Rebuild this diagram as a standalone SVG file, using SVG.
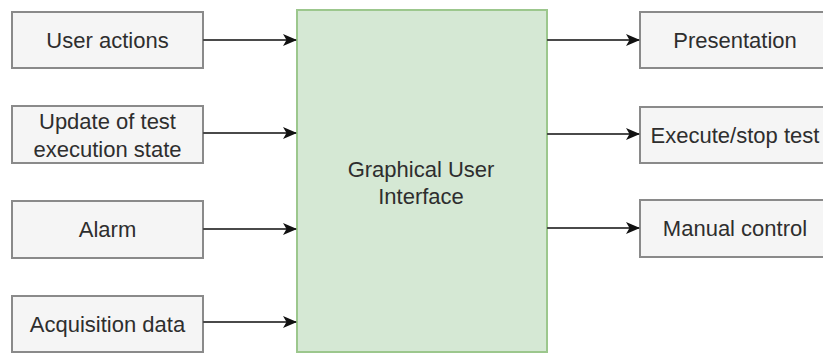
<svg xmlns="http://www.w3.org/2000/svg" width="823" height="354" viewBox="0 0 823 354">
<defs>
<style>
.box{fill:#f5f5f5;stroke:#8a8a8a;stroke-width:2}
.main{fill:#d5e8d4;stroke:#9cc78d;stroke-width:2}
.t{font-family:"Liberation Sans",Arial,sans-serif;font-size:22px;fill:#2e2e2e;text-anchor:middle}
.c{stroke:#4a4a4a;stroke-width:2.2;fill:none;marker-end:url(#arr)}
</style>
<marker id="arr" viewBox="0 0 14 12" refX="13" refY="6" markerWidth="14" markerHeight="12" markerUnits="userSpaceOnUse" orient="auto">
<path d="M0,0 L14,6 L0,12 L3.5,6 Z" fill="#111"/>
</marker>
</defs>
<rect width="823" height="354" fill="#fff"/>
<g id="user-actions"><rect class="box" x="12" y="12" width="191" height="56"/><text class="t" x="107.5" y="48">User actions</text></g>
<g id="update-state"><rect class="box" x="12" y="106" width="191" height="57"/><text class="t" x="107.5" y="129">Update of test</text><text class="t" x="107.5" y="157">execution state</text></g>
<g id="alarm"><rect class="box" x="12" y="201" width="191" height="57"/><text class="t" x="107.5" y="237">Alarm</text></g>
<g id="acquisition"><rect class="box" x="12" y="296" width="191" height="56"/><text class="t" x="107.5" y="332">Acquisition data</text></g>
<g id="gui"><rect class="main" x="297" y="10" width="250" height="342"/><text class="t" x="421" y="177">Graphical User</text><text class="t" x="421" y="204">Interface</text></g>
<g id="presentation"><rect class="box" x="640" y="12" width="191" height="56"/><text class="t" x="735" y="48">Presentation</text></g>
<g id="execute-stop"><rect class="box" x="640" y="107" width="191" height="56"/><text class="t" x="735" y="143">Execute/stop test</text></g>
<g id="manual-control"><rect class="box" x="640" y="200" width="191" height="57"/><text class="t" x="735" y="236">Manual control</text></g>
<g id="connectors">
<line class="c" x1="203" y1="40" x2="296" y2="40"/>
<line class="c" x1="203" y1="133" x2="296" y2="133"/>
<line class="c" x1="203" y1="229" x2="296" y2="229"/>
<line class="c" x1="203" y1="322" x2="296" y2="322"/>
<line class="c" x1="547" y1="40" x2="639" y2="40"/>
<line class="c" x1="547" y1="134" x2="639" y2="134"/>
<line class="c" x1="547" y1="228" x2="639" y2="228"/>
</g>
</svg>
